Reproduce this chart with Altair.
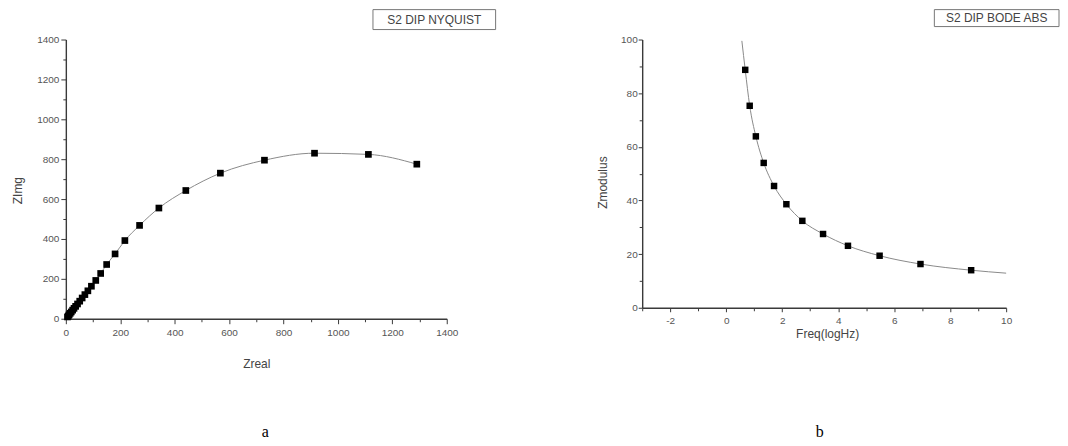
import altair as alt
import pandas as pd

# ---------------- data ----------------
nyq_zreal = [6, 9, 12, 16, 20, 25, 30, 36, 43, 51, 60, 70, 81, 94, 110, 128, 150,
             181, 217, 271, 342, 441, 568, 730, 914, 1112, 1290]
nyq_zimg = [9, 14, 20, 27, 34, 43, 52, 62, 74, 88, 104, 121, 140, 163, 192, 227, 272,
            325, 392, 468, 555, 643, 730, 795, 830, 824, 775]

bode_freq = [0.68, 0.84, 1.06, 1.34, 1.71, 2.15, 2.72, 3.46, 4.35, 5.48, 6.94, 8.75]
bode_zmod = [88.7, 75.3, 63.9, 54.0, 45.4, 38.6, 32.4, 27.5, 23.1, 19.4, 16.3, 14.0]

# fitted curve (it runs past the first and last markers)
bode_curve_freq = [0.56] + bode_freq + [10.0]
bode_curve_zmod = [99.5] + bode_zmod + [12.9]

nyq_ticks = list(range(0, 1401, 100))
bode_x_ticks = list(range(-3, 11))
bode_y_ticks = list(range(0, 101, 10))

legend_a = ["S2 DIP NYQUIST"]
legend_b = ["S2 DIP BODE ABS"]
caption_a = ["a"]
caption_b = ["b"]

FONT = "Liberation Sans"
AX = "#3a3a3a"
LAB = "#555555"


def make_axis(values, major, title, tick_major=5, tick_minor=3, pad=3, **kw):
    return alt.Axis(
        values=values,
        labelExpr=f"datum.value % {major} === 0 ? '' + datum.value : ''",
        tickSize={"condition": {"test": f"datum.value % {major} === 0", "value": tick_major},
                  "value": tick_minor},
        grid=False,
        domainColor=AX, tickColor=AX, domainWidth=1.4, tickWidth=1,
        labelColor=LAB, labelFont=FONT, labelFontSize=10, labelPadding=pad,
        labelOverlap=False, labelFlush=False,
        title=title, titleFont=FONT, titleFontSize=12, titleFontWeight="normal",
        titleColor="#444444", titleBaseline="middle", titleAlign="center",
        **kw,
    )


# ---------------- panel a : Nyquist ----------------
nyq = pd.DataFrame({"zreal": nyq_zreal, "zimg": nyq_zimg})
W1, H1 = 382, 280

xa = alt.X("zreal:Q", scale=alt.Scale(domain=[0, 1400], nice=False, zero=False),
           axis=make_axis(nyq_ticks, 200, "Zreal", pad=4, titleX=W1 / 2, titleY=45))
ya = alt.Y("zimg:Q", scale=alt.Scale(domain=[0, 1400], nice=False, zero=False),
           axis=make_axis(nyq_ticks, 200, "ZImg", pad=2, titleX=-48, titleY=151,
                          titleAngle=-90))

base_a = alt.Chart(nyq)
line_a = base_a.mark_line(color="#8a8a8a", strokeWidth=1, interpolate="monotone").encode(x=xa, y=ya)
pts_a = base_a.mark_square(size=45, color="black", opacity=1).encode(x=xa, y=ya)

leg_a_df = pd.DataFrame({"t": legend_a})
box_a = alt.Chart(leg_a_df).mark_rect(fill="white", stroke="#777777", strokeWidth=1).encode(
    x=alt.value(308), x2=alt.value(431), y=alt.value(-30), y2=alt.value(-10))
txt_a = alt.Chart(leg_a_df).mark_text(font=FONT, fontSize=12, color="#444444").encode(
    text="t:N", x=alt.value(369.5), y=alt.value(-20))
cap_a = alt.Chart(pd.DataFrame({"t": caption_a})).mark_text(
    font="Liberation Serif", fontSize=16, color="black", baseline="middle").encode(
    text="t:N", x=alt.value(200), y=alt.value(394))

panel_a = alt.layer(line_a, pts_a, box_a, txt_a, cap_a).properties(width=W1, height=H1)

# ---------------- panel b : Bode modulus ----------------
bode = pd.DataFrame({"f": bode_freq, "z": bode_zmod})
curve = pd.DataFrame({"f": bode_curve_freq, "z": bode_curve_zmod})
W2, H2 = 365, 269

xb = alt.X("f:Q", scale=alt.Scale(domain=[-3, 10], nice=False, zero=False),
           axis=make_axis(bode_x_ticks, 2, "Freq(logHz)", tick_major=4, tick_minor=3, pad=4,
                          titleX=W2 / 2 + 3, titleY=26))
yb = alt.Y("z:Q", scale=alt.Scale(domain=[0, 100], nice=False, zero=False),
           axis=make_axis(bode_y_ticks, 20, "Zmodulus", tick_major=4, tick_minor=3, pad=1,
                          titleX=-40, titleY=143, titleAngle=-90))

line_b = alt.Chart(curve).mark_line(color="#8a8a8a", strokeWidth=1, interpolate="monotone").encode(x=xb, y=yb)
pts_b = alt.Chart(bode).mark_square(size=42, color="black", opacity=1).encode(x=xb, y=yb)

leg_b_df = pd.DataFrame({"t": legend_b})
box_b = alt.Chart(leg_b_df).mark_rect(fill="white", stroke="#777777", strokeWidth=1).encode(
    x=alt.value(293), x2=alt.value(418), y=alt.value(-30), y2=alt.value(-13))
txt_b = alt.Chart(leg_b_df).mark_text(font=FONT, fontSize=12, color="#444444").encode(
    text="t:N", x=alt.value(355.5), y=alt.value(-21.5))
cap_b = alt.Chart(pd.DataFrame({"t": caption_b})).mark_text(
    font="Liberation Serif", fontSize=16, color="black", baseline="middle").encode(
    text="t:N", x=alt.value(178), y=alt.value(394))

panel_b = alt.layer(line_b, pts_b, box_b, txt_b, cap_b).properties(width=W2, height=H2)

chart = alt.hconcat(panel_a, panel_b, spacing=100).properties(
    padding={"left": 4, "top": 0, "right": 0, "bottom": 0},
    background="white",
).configure_view(stroke=None)

chart.save("out.html", embed_options={"renderer": "svg", "actions": False})
